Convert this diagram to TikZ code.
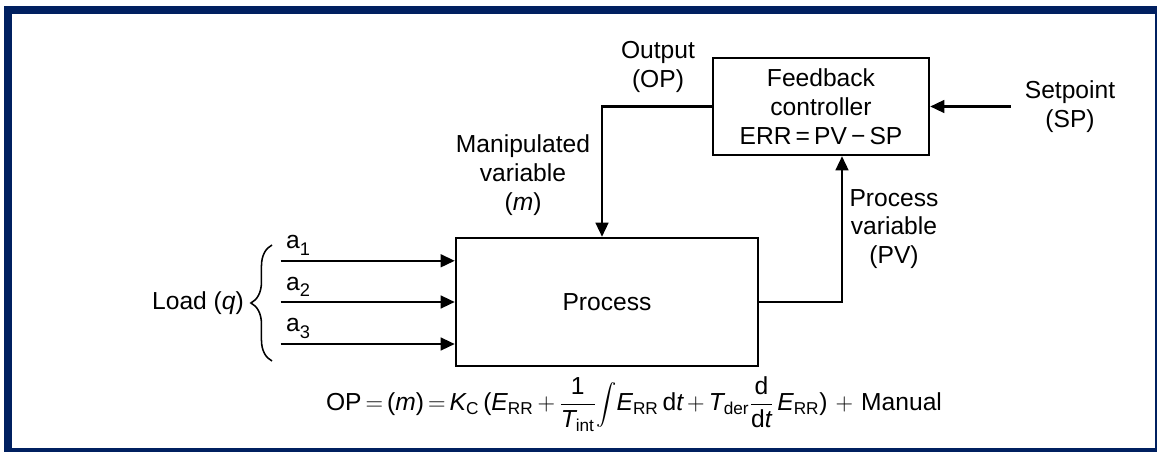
\documentclass[tikz,border=0pt]{standalone}
\usepackage{amsmath}
\usepackage{fontspec}
\setmainfont{Liberation Sans}
\usetikzlibrary{arrows.meta, positioning, decorations.pathreplacing}
\definecolor{framenavy}{RGB}{0,32,96}
\newcommand{\ti}[1]{\textit{#1}}
\newcommand{\tx}[1]{\textnormal{#1}}
\newcommand{\lsub}[1]{\raisebox{-0.5ex}{\fontsize{13}{13}\selectfont #1}}
\tikzset{%
    block/.style = {draw=black, rectangle, line width=1.7pt,
        inner sep=0pt, align=center},
    lbl/.style = {align=center, inner sep=1pt},
    line/.style = {draw=black, line width=1.7pt,
        -{Triangle[length=10pt, width=9pt]}},
}

\begin{document}
\begin{tikzpicture}[x=0.025cm, y=-0.025cm, node distance = 2cm, auto,
    font=\fontsize{17.5}{20.5}\selectfont]
    \useasboundingbox (0,0) rectangle (1157,452);
    \fill [framenavy] (4,6) rectangle (1157,452);
    \fill [white] (12,14) rectangle (1155,448);
    \node [block, minimum width=7.55cm, minimum height=3.2cm] (process) at (607,302) {Process};
    \node [block, minimum width=5.4cm, minimum height=2.425cm] (ctrl) at (821,106.5)
        {Feedback\\controller\\ERR\,=\,PV\,−\,SP};
    \node [lbl] (sp) at (1070,106.5) {Setpoint\\(SP)};
    \node [lbl] (op) at (658,67) {Output\\(OP)};
    \node [lbl] (mv) at (523,175) {Manipulated\\variable\\(\ti{m})};
    \node [lbl] (pv) at (894,229) {Process\\variable\\(PV)};
    \node [lbl] (load) at (198,303) {Load (\ti{q})};
    \path [line] (ctrl.west) -| ([xshift=-1.25mm]process.north);
    \path [line] (process.east) -| ([xshift=5.25mm]ctrl.south);
    \path [line, shorten <=9pt] (sp.west) -- (ctrl.east);
    \foreach \i/\dy in {1/1.03, 2/0, 3/-1.05} {
        \coordinate (a\i) at ([yshift=\dy cm, xshift=-4.35cm]process.west);
        \path [line] (a\i) -- node [pos=0, anchor=south west, inner sep=3pt] {a\lsub{\i}}
            ([yshift=\dy cm]process.west);
    }
    \draw [decorate, decoration={brace, amplitude=15pt}, line width=1.1pt]
        (272,361) -- (272,245);
    \node (eq) at (634,404) {\thickmuskip=3mu \medmuskip=3mu
        $\displaystyle \tx{OP} = \tx{(}\ti{m}\tx{)} = \ti{K}_{\tx{C}}\,
        \tx{(}\ti{E}_{\tx{RR}} + \frac{\tx{1}}{\ti{T}_{\tx{int}}}
        \vcenter{\hbox{\fontsize{14}{14}\selectfont$\displaystyle\int$}}
        \ti{E}_{\tx{RR}}\,\tx{d}\ti{t} + \ti{T}_{\tx{der}}\frac{\tx{d}}{\tx{d}\ti{t}}\,
        \ti{E}_{\tx{RR}}\tx{)} \mathbin{\;+\;} \tx{Manual}$};
\end{tikzpicture}
\end{document}
